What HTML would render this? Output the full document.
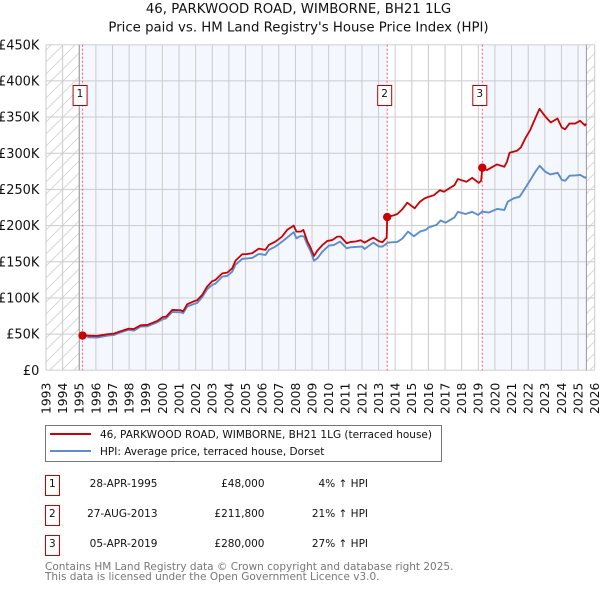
<!DOCTYPE html>
<html lang="en">
<head>
<meta charset="utf-8">
<title>46, PARKWOOD ROAD, WIMBORNE, BH21 1LG</title>
<style>
html,body{margin:0;padding:0;background:#fff;width:600px;height:590px;overflow:hidden}
svg{display:block;font-family:"DejaVu Sans","Liberation Sans",sans-serif}
</style>
</head>
<body>
<svg id="chart" xmlns="http://www.w3.org/2000/svg" width="600" height="590" viewBox="0 0 600 590">
  <defs>
    <pattern id="hatch" patternUnits="userSpaceOnUse" width="12" height="12">
      <path d="M0 12L12 0M-2 2L2 -2M10 14L14 10" stroke="#d8d8d8" stroke-width="1" fill="none"/>
    </pattern>
  </defs>
  <text x="298.5" y="13" font-size="13.3" text-anchor="middle" fill="#111">46, PARKWOOD ROAD, WIMBORNE, BH21 1LG</text>
  <text x="298.5" y="31.5" font-size="13.3" text-anchor="middle" fill="#111">Price paid vs. HM Land Registry's House Price Index (HPI)</text>
  <g id="plot"></g>

  <g>
    <rect x="45.5" y="425.5" width="396" height="36" fill="#fff" stroke="#777" stroke-width="1"/>
    <line x1="50" x2="91" y1="434" y2="434" stroke="#cc0000" stroke-width="2"/>
    <text x="100" y="438" font-size="10.5" fill="#111">46, PARKWOOD ROAD, WIMBORNE, BH21 1LG (terraced house)</text>
    <line x1="50" x2="91" y1="451" y2="451" stroke="#5b8dd0" stroke-width="2"/>
    <text x="100" y="455" font-size="10.5" fill="#111">HPI: Average price, terraced house, Dorset</text>
  </g>

  <g font-size="10.5" fill="#111">
    <g>
      <rect x="45.5" y="475.5" width="14" height="20" fill="#fff" stroke="#cc0000"/>
      <text x="52.3" y="487" text-anchor="middle">1</text>
      <text x="157.5" y="487" text-anchor="end">28-APR-1995</text>
      <text x="264.5" y="487" text-anchor="end">£48,000</text>
      <text x="368" y="487" text-anchor="end">4% ↑ HPI</text>
    </g>
    <g>
      <rect x="45.5" y="505.5" width="14" height="20" fill="#fff" stroke="#cc0000"/>
      <text x="52.3" y="517" text-anchor="middle">2</text>
      <text x="157.5" y="517" text-anchor="end">27-AUG-2013</text>
      <text x="264.5" y="517" text-anchor="end">£211,800</text>
      <text x="368" y="517" text-anchor="end">21% ↑ HPI</text>
    </g>
    <g>
      <rect x="45.5" y="535.5" width="14" height="20" fill="#fff" stroke="#cc0000"/>
      <text x="52.3" y="547" text-anchor="middle">3</text>
      <text x="157.5" y="547" text-anchor="end">05-APR-2019</text>
      <text x="264.5" y="547" text-anchor="end">£280,000</text>
      <text x="368" y="547" text-anchor="end">27% ↑ HPI</text>
    </g>
  </g>

  <text x="45" y="570" font-size="10.5" fill="#777">Contains HM Land Registry data © Crown copyright and database right 2025.</text>
  <text x="45" y="580" font-size="10.5" fill="#777">This data is licensed under the Open Government Licence v3.0.</text>
</svg>
<script>
const tickYears = [1993,1994,1995,1996,1997,1998,1999,2000,2001,2002,2003,2004,2005,2006,2007,2008,2009,2010,2011,2012,2013,2014,2015,2016,2017,2018,2019,2020,2021,2022,2023,2024,2025,2026];
const tickValues = [0,50000,100000,150000,200000,250000,300000,350000,400000,450000];
const tickValueLabels = ['£0','£50K','£100K','£150K','£200K','£250K','£300K','£350K','£400K','£450K'];
const dataStartYear = 1995;
const dataEndYear = 2025.5;
const saleNumbers = ['1','2','3'];
const saleYears = [1995.2,2013.52,2019.24];
const salePrices = [48000,211800,280000];
const propertyYears = [1995.2,1996.08,1996.68,1997.08,1997.48,1997.98,1998.28,1998.69,1999.09,1999.69,2000.03,2000.23,2000.59,2001.09,2001.25,2001.49,2001.89,2002.09,2002.39,2002.69,2002.99,2003.19,2003.6,2003.9,2004.2,2004.4,2004.8,2005,2005.4,2005.8,2006.2,2006.4,2006.8,2007.2,2007.5,2007.9,2008.06,2008.32,2008.48,2008.72,2008.88,2009.12,2009.32,2009.62,2009.92,2010.22,2010.52,2010.72,2011.08,2011.32,2011.62,2011.92,2012.16,2012.68,2013.03,2013.23,2013.49,2013.52,2013.93,2014.13,2014.43,2014.73,2015.17,2015.49,2015.77,2016.03,2016.33,2016.69,2016.93,2017.29,2017.57,2017.77,2018.29,2018.63,2019.03,2019.17,2019.24,2019.52,2020.12,2020.56,2020.72,2020.88,2021.32,2021.56,2021.82,2022.12,2022.42,2022.68,2023.02,2023.36,2023.76,2024.02,2024.22,2024.48,2024.82,2025.12,2025.42,2025.48];
const propertyValues = [48000,47500,49800,50700,53900,57600,57100,62200,62700,68200,73700,74200,83400,83000,81500,91200,95400,96800,104000,115700,123000,124900,134000,135000,141000,151600,160400,160400,161800,168200,166400,173300,177900,184800,194000,200000,191700,191700,194000,177900,171000,158000,165400,173000,178800,180000,184800,184800,175600,177400,178000,179700,176500,183400,178300,177000,183400,211800,214300,216000,222600,231700,223900,233000,237600,239900,242000,249000,246800,252000,256000,264300,260600,266000,259000,262000,280000,276700,284500,281300,288000,300600,303400,308000,320400,332000,348000,361400,351000,342500,348000,335600,333000,341000,341000,344800,338400,341000];
const hpiYears = [1995.48,1996.08,1996.68,1997.08,1997.48,1997.98,1998.28,1998.69,1999.09,1999.69,2000.03,2000.23,2000.59,2001.09,2001.25,2001.49,2001.89,2002.09,2002.39,2002.69,2002.99,2003.19,2003.6,2003.9,2004.2,2004.4,2004.8,2005,2005.4,2005.8,2006.2,2006.4,2006.8,2007.2,2007.5,2007.9,2008.06,2008.32,2008.52,2008.72,2008.88,2009.12,2009.32,2009.62,2010.02,2010.32,2010.68,2011.08,2011.32,2011.62,2012.02,2012.16,2012.68,2013.03,2013.23,2013.57,2014.13,2014.43,2014.77,2015.13,2015.49,2015.83,2016.03,2016.49,2016.73,2017.03,2017.57,2017.77,2018.23,2018.63,2018.99,2019.23,2019.63,2020.13,2020.57,2020.77,2021.13,2021.49,2021.77,2022.13,2022.43,2022.69,2023.03,2023.33,2023.77,2024.03,2024.23,2024.49,2024.83,2025.13,2025.43,2025.48];
const hpiValues = [45600,45200,47900,48800,52500,56000,54800,60400,60800,66400,70500,71900,80600,80200,79000,88000,91700,93000,101000,112000,118000,119800,129500,130400,136400,146000,154000,154400,155300,160800,159400,166400,171000,177900,183400,191000,182500,185700,184800,173300,166400,151600,154800,164000,172400,173300,177900,168700,170000,170500,171000,167700,176500,171000,171000,176500,177400,182000,191700,185300,191700,194000,197700,201000,207000,204000,211500,219000,216000,219000,214700,219400,218000,223000,221700,233000,237700,240000,250000,263000,274400,282700,274400,270700,273000,263000,262000,269000,269300,270000,266000,267500];

const SVG_NS = 'http://www.w3.org/2000/svg';
const plotEl = document.getElementById('plot');
const PLOT_LEFT = 46, PLOT_RIGHT = 594.7, PLOT_TOP = 44.7, PLOT_BOTTOM = 370.3;
const xScale = y => PLOT_LEFT + (y - tickYears[0]) * (PLOT_RIGHT - PLOT_LEFT) / (tickYears[tickYears.length - 1] - tickYears[0]);
const yScale = v => PLOT_BOTTOM - v * (PLOT_BOTTOM - PLOT_TOP) / tickValues[tickValues.length - 1];
function make(tag, attrs, text) {
  const el = document.createElementNS(SVG_NS, tag);
  for (const k in attrs) el.setAttribute(k, attrs[k]);
  if (text !== undefined) el.textContent = text;
  plotEl.appendChild(el);
  return el;
}
let el;

el = make('rect', {x: PLOT_LEFT, y: PLOT_TOP, width: xScale(dataStartYear) - PLOT_LEFT, height: PLOT_BOTTOM - PLOT_TOP, fill: 'url(#hatch)'});


el = make('rect', {x: xScale(dataEndYear), y: PLOT_TOP, width: PLOT_RIGHT - xScale(dataEndYear), height: PLOT_BOTTOM - PLOT_TOP, fill: 'url(#hatch)'});



const bandEdges = [dataStartYear, saleYears[1], saleYears[2], dataEndYear];
[0, 2].forEach(i => {
  const b = make('rect', {x: xScale(bandEdges[i]), y: PLOT_TOP, width: xScale(bandEdges[i + 1]) - xScale(bandEdges[i]), height: PLOT_BOTTOM - PLOT_TOP, fill: '#f4f7fe'});
  
  
});

tickValues.forEach((v, i) => {
  const g = make('line', {x1: PLOT_LEFT, x2: PLOT_RIGHT, y1: yScale(v), y2: yScale(v), stroke: '#cbcbcb', 'stroke-width': 1});
  
  
  const t = make('text', {x: 39.3, y: yScale(v) + 4.6, 'font-size': 12.9, 'text-anchor': 'end', fill: '#111'}, tickValueLabels[i]);
  
  
});
tickYears.forEach(yr => {
  const g = make('line', {x1: xScale(yr), x2: xScale(yr), y1: PLOT_TOP, y2: PLOT_BOTTOM, stroke: '#cbcbcb', 'stroke-width': 1});
  
  
  const tx = xScale(yr) + 4.4;
  const t = make('text', {x: tx, y: 414, 'font-size': 12.3, fill: '#111', transform: 'rotate(-90 ' + tx + ' 414)'}, String(yr));
  
  
});
[[PLOT_LEFT, PLOT_TOP, PLOT_RIGHT, PLOT_TOP],[PLOT_LEFT, PLOT_BOTTOM, PLOT_RIGHT, PLOT_BOTTOM]].forEach(c => {
  const b = make('line', {x1: c[0], y1: c[1], x2: c[2], y2: c[3], stroke: '#dcdcdc', 'stroke-width': 1.2});
  
  
});
[dataStartYear, dataEndYear].forEach(yr => {
  const b = make('line', {x1: xScale(yr), x2: xScale(yr), y1: PLOT_TOP, y2: PLOT_BOTTOM, stroke: '#999', 'stroke-width': 1});
  
  
});
saleYears.forEach(yr => {
  const v = make('line', {x1: xScale(yr), x2: xScale(yr), y1: PLOT_TOP, y2: PLOT_BOTTOM, stroke: '#f4606a', 'stroke-width': 1, 'stroke-dasharray': '2 2'});
  
  
});

function linePoints(xs, ys) {
  return xs.map((yr, i) => xScale(yr).toFixed(2) + ',' + yScale(ys[i]).toFixed(2)).join(' ');
}
el = make('polyline', {points: linePoints(hpiYears, hpiValues), fill: 'none', stroke: '#5b8dd0', 'stroke-width': 1.9, 'stroke-linejoin': 'round'});


el = make('polyline', {points: linePoints(propertyYears, propertyValues), fill: 'none', stroke: '#cc0000', 'stroke-width': 1.8, 'stroke-linejoin': 'round'});



saleYears.forEach((yr, i) => {
  const c = make('circle', {cx: xScale(yr), cy: yScale(salePrices[i]), r: 4.2, fill: '#cc0000'});
  
  
  const r = make('rect', {x: xScale(yr) - 9.5, y: 85.5, width: 14, height: 20, fill: '#fff', stroke: '#bb0000', 'stroke-width': 1});
  
  
  const t = make('text', {x: xScale(yr) - 2.6, y: 97, 'font-size': 10.5, 'text-anchor': 'middle', fill: '#111'}, saleNumbers[i]);
  
  
});
</script>
</body>
</html>
